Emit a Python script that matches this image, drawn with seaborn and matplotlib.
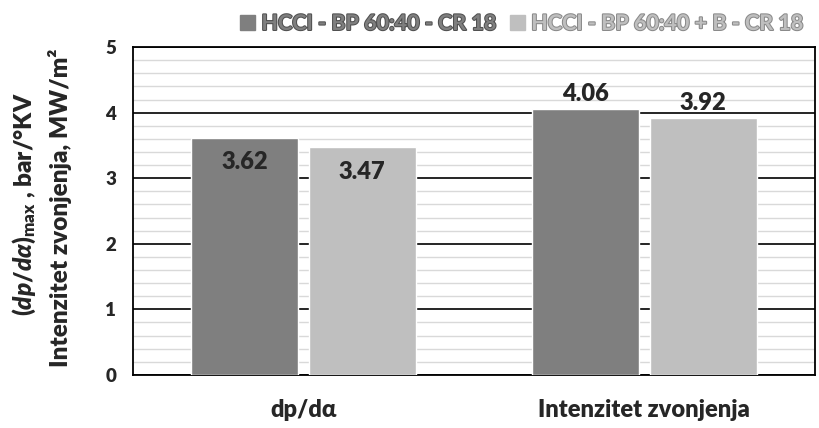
import pandas as pd
import matplotlib
matplotlib.use("Agg")
import matplotlib.pyplot as plt
import matplotlib.patheffects as pe
from matplotlib.ticker import MultipleLocator
import seaborn as sns

# Data
categories = ["dp/dα", "Intenzitet zvonjenja"]
series_names = ["HCCI - BP 60:40 - CR 18", "HCCI - BP 60:40 + B - CR 18"]
series_a = [3.62, 4.06]
series_b = [3.47, 3.92]
colors = ["#7f7f7f", "#bfbfbf"]

df = pd.DataFrame({
    "category": categories * 2,
    "series": [series_names[0]] * 2 + [series_names[1]] * 2,
    "value": series_a + series_b,
})

sns.set_style("white")
plt.rcParams["font.family"] = ["Lato", "DejaVu Sans"]
plt.rcParams["font.weight"] = "heavy"
plt.rcParams["mathtext.fontset"] = "custom"
plt.rcParams["mathtext.rm"] = "Lato:heavy"
plt.rcParams["mathtext.it"] = "Lato:italic:heavy"

fig = plt.figure(figsize=(8.19, 4.28), dpi=100)
ax = fig.add_axes([0.162, 0.124, 0.833, 0.766])

sns.barplot(data=df, x="category", y="value", hue="series", palette=colors,
            width=0.69, gap=0.09, saturation=1, ax=ax, legend=False, zorder=3)

ax.set_ylim(0, 5)
ax.set_xlim(-0.5, 1.5)
ax.yaxis.set_major_locator(MultipleLocator(1))
ax.yaxis.set_minor_locator(MultipleLocator(0.2))
ax.grid(which="minor", axis="y", color="#d9d9d9", lw=1, zorder=0)
ax.grid(which="major", axis="y", color="black", lw=1.2, zorder=1)
ax.set_axisbelow(True)
for s in ax.spines.values():
    s.set_color("black")
    s.set_linewidth(1.3)
ax.tick_params(axis="both", which="both", length=0)
ax.tick_params(axis="y", labelsize=13.5, pad=12)
ax.tick_params(axis="x", labelsize=17, pad=17)
for lbl in ax.get_xticklabels() + ax.get_yticklabels():
    lbl.set_fontweight("heavy")
ax.set_xlabel("")
ax.set_ylabel("")

# two-line y label, each line centred on the plot area
fig.text(0.030, 0.523, "($\\mathit{dp/d\\alpha}$)$_{\\mathrm{max}}$ , bar/°KV",
         rotation=90, ha="center", va="center", fontsize=17.5, fontweight="heavy")
fig.text(0.073, 0.514, "Intenzitet zvonjenja, MW/m²",
         rotation=90, ha="center", va="center", fontsize=17.5, fontweight="heavy")

# value labels: first group inside the bar end, second group above it
for i, bars in enumerate(ax.containers):
    for j, bar in enumerate(bars):
        v = bar.get_height()
        x = bar.get_x() + bar.get_width() / 2
        if j == 0:
            ax.text(x, v - 0.2, f"{v:.2f}", ha="center", va="top",
                    fontsize=17, fontweight="heavy", zorder=5)
        else:
            ax.text(x, v + 0.06, f"{v:.2f}", ha="center", va="bottom",
                    fontsize=17, fontweight="heavy", zorder=5)

# legend at the top
handles = [plt.Rectangle((0, 0), 1, 1, color=c) for c in colors]
leg = fig.legend(handles, series_names, loc="upper right", bbox_to_anchor=(1.005, 1.015),
                 ncol=2, frameon=False, fontsize=15.5, handlelength=0.7, handleheight=0.7,
                 handletextpad=0.3, columnspacing=0.6)
edge = ["#505050", "#8a8a8a"]
for t, c, e in zip(leg.get_texts(), colors, edge):
    t.set_color(c)
    t.set_fontweight("bold")
    t.set_path_effects([pe.Stroke(linewidth=1.5, foreground=e), pe.Normal()])

fig.savefig("out.png", dpi=100)
